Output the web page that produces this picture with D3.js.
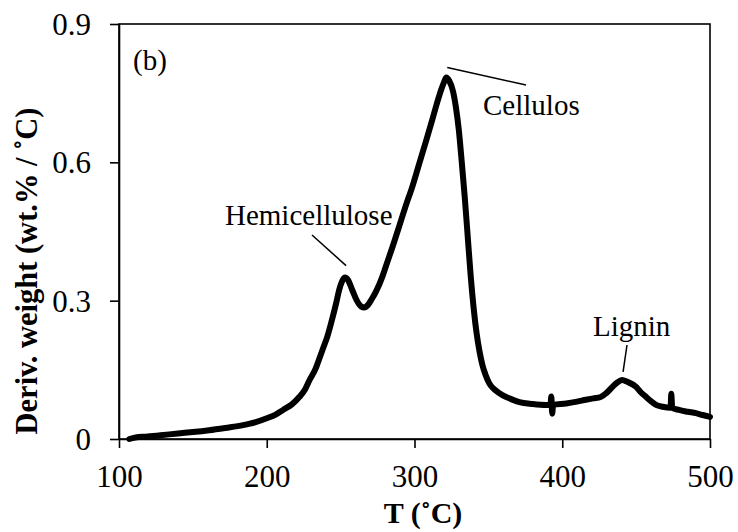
<!DOCTYPE html>
<html>
<head>
<meta charset="utf-8">
<script src="https://cdn.jsdelivr.net/npm/d3@7"></script>
<style>
  html, body { margin: 0; padding: 0; background: #fff; }
  svg { display: block; }
  text { font-family: "Liberation Serif", "Times New Roman", serif; fill: #000; }
</style>
</head>
<body>
<svg id="chart" width="738" height="532"></svg>
<script>
// ---- data ----
const temps = [107,112,118,128,140,150,161,172,184,192,200,206,211,217,222,226,229,233,236,238.5,241,244.6,247,249,251,253,255,258,261,264,266,268,271,274,278,281,286,290,294,298.6,303,308,312,315,318,320,321.5,323.5,326,328,330,332,334,336,338,340,342,344,346,348,350.7,355,359.5,365,371,380,389,392,392.6,393.2,393.8,402.7,410,416,421,426,430,434,437,440.5,444,450,453,456.8,460,463.5,468,473.3,473.8,474.4,479,485,490.5,495,500];
const deriv = [0.0,0.004,0.005,0.008,0.012,0.015,0.019,0.024,0.03,0.036,0.045,0.053,0.063,0.075,0.091,0.108,0.128,0.152,0.178,0.2,0.222,0.264,0.295,0.323,0.342,0.350,0.345,0.322,0.300,0.287,0.285,0.289,0.303,0.320,0.350,0.378,0.425,0.465,0.505,0.548,0.595,0.648,0.692,0.726,0.757,0.774,0.784,0.777,0.755,0.72,0.67,0.60,0.525,0.44,0.355,0.285,0.23,0.19,0.16,0.14,0.12,0.105,0.095,0.087,0.08,0.076,0.074,0.074,0.092,0.055,0.074,0.077,0.081,0.085,0.088,0.091,0.1,0.113,0.122,0.128,0.124,0.113,0.102,0.091,0.082,0.074,0.07,0.068,0.098,0.068,0.063,0.059,0.056,0.052,0.048];
const xTicks = [100, 200, 300, 400, 500];
const yTicks = [0, 0.3, 0.6, 0.9];
const yTickLabels = ["0", "0.3", "0.6", "0.9"];
const xTitle = "T (˚C)";
const yTitle = "Deriv. weight (wt.% / ˚C)";
const panelLabel = "(b)";
const annotations = [
  { text: "Hemicellulose", T: 253, v: 0.350 },
  { text: "Cellulos", T: 321.5, v: 0.784 },
  { text: "Lignin", T: 440.5, v: 0.128 }
];

// ---- layout ----
const svg = d3.select("#chart");
const mLeft = 119, mRight = 710, mTop = 24, mBottom = 439;
const x = d3.scaleLinear().domain([100, 500]).range([mLeft, mRight]);
const y = d3.scaleLinear().domain([0, 0.9]).range([mBottom, mTop]);

// curve
const data = temps.map((t, i) => [t, deriv[i]]);
svg.append("path")
  .datum(data)
  .attr("fill", "none")
  .attr("stroke", "#000")
  .attr("stroke-width", 6)
  .attr("stroke-linejoin", "round")
  .attr("stroke-linecap", "round")
  .attr("d", d3.line().x(d => x(d[0])).y(d => y(d[1])).curve(d3.curveMonotoneX));

// frame
svg.append("rect")
  .attr("x", mLeft).attr("y", mTop)
  .attr("width", mRight - mLeft).attr("height", mBottom - mTop)
  .attr("fill", "none").attr("stroke", "#000").attr("stroke-width", 1.6);

// axes
const xAxis = svg.append("g").attr("transform", `translate(0,${mBottom})`)
  .call(d3.axisBottom(x).tickValues(xTicks).tickSize(9).tickSizeOuter(0).tickFormat(d3.format("d")));
const yAxis = svg.append("g").attr("transform", `translate(${mLeft},0)`)
  .call(d3.axisLeft(y).tickValues(yTicks).tickSize(9).tickSizeOuter(0).tickFormat((d, i) => yTickLabels[i]));
[xAxis, yAxis].forEach(g => {
  g.select(".domain").attr("stroke", "#000").attr("stroke-width", 1.6);
  g.selectAll(".tick line").attr("stroke", "#000").attr("stroke-width", 1.6);
  g.selectAll(".tick text").attr("font-family", "Liberation Serif").attr("font-size", 31).attr("fill", "#000");
});
xAxis.selectAll(".tick text").attr("dy", 0).attr("y", 48);
yAxis.selectAll(".tick text").attr("x", -28).attr("dy", "0.34em");

// titles
svg.append("text").attr("x", 423).attr("y", 523).attr("text-anchor", "middle")
  .attr("font-size", 30).attr("font-weight", "bold").text(xTitle);
svg.append("text").attr("transform", "translate(37,271) rotate(-90)").attr("text-anchor", "middle")
  .attr("font-size", 30.5).attr("font-weight", "bold").text(yTitle);

// panel label
svg.append("text").attr("x", 133).attr("y", 70).attr("font-size", 29).text(panelLabel);

// annotations
const ann = svg.append("g");
ann.append("text").attr("x", 225).attr("y", 225).attr("font-size", 29).text(annotations[0].text);
ann.append("line").attr("x1", 312).attr("y1", 235).attr("x2", x(annotations[0].T) + 1).attr("y2", y(annotations[0].v) - 12)
  .attr("stroke", "#000").attr("stroke-width", 1.5);
ann.append("text").attr("x", 483).attr("y", 115).attr("font-size", 29).text(annotations[1].text);
ann.append("line").attr("x1", x(annotations[1].T) + 1).attr("y1", y(annotations[1].v) - 10).attr("x2", 526).attr("y2", 85)
  .attr("stroke", "#000").attr("stroke-width", 1.5);
ann.append("text").attr("x", 593).attr("y", 336).attr("font-size", 29).text(annotations[2].text);
ann.append("line").attr("x1", 627).attr("y1", 345).attr("x2", x(annotations[2].T) + 1).attr("y2", y(annotations[2].v) - 8)
  .attr("stroke", "#000").attr("stroke-width", 1.5);
</script>
</body>
</html>
